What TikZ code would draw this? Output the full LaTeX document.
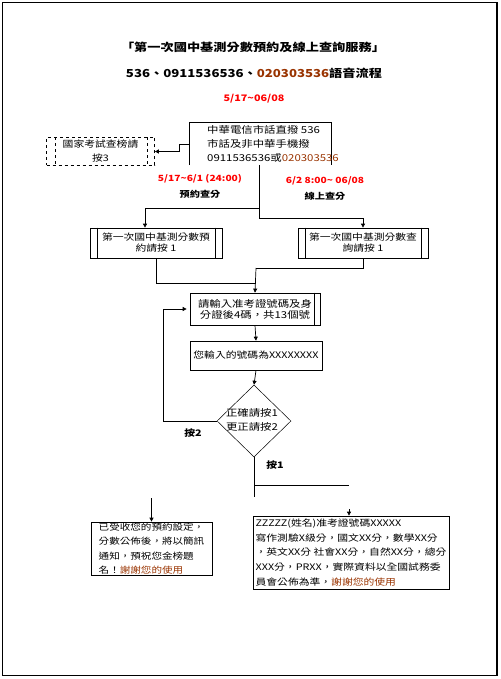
\documentclass[tikz,border=0pt]{standalone}
\usepackage{fontspec}
\setmainfont{Noto Sans CJK TC}[FakeStretch=1.2]
\usetikzlibrary{arrows.meta,shapes.geometric}
\definecolor{brn}{RGB}{153,51,0}
\definecolor{rd}{RGB}{255,0,0}
\tikzset{
  box/.style={draw, line width=0.7pt, inner sep=0pt, align=center},
  lbl/.style={inner sep=0pt, align=center},
  ln/.style={line width=0.7pt},
  arr/.style={line width=0.7pt, -{Triangle[length=4pt,width=4pt]}},
}
\begin{document}
\begin{tikzpicture}[x=1pt,y=-1pt]
\useasboundingbox (0,0) rectangle (500,679);
\draw[line width=1.4pt] (2.5,2.5) rectangle (497,675.5);

% titles
\node[lbl, font=\fontsize{11}{13}\selectfont\bfseries] (title) at (253,47) {「第一次國中基測分數預約及線上查詢服務」};
\node[lbl, font=\fontsize{11}{13}\selectfont\bfseries] (sub) at (254,73) {536、0911536536、\textcolor{brn}{020303536}語音流程};
\node[lbl, font=\fontsize{9}{11}\selectfont\bfseries, text=rd] (date) at (254,99) {5/17\textasciitilde06/08};

% top box (three sides)
\node[minimum width=141pt, minimum height=42pt, inner sep=0pt] (top) at (260.5,144) {};
\draw[ln] (top.south west) |- (top.north east) -- (top.south east);
\node[lbl, anchor=west, align=left, font=\fontsize{9.5}{14}\selectfont] (toptext) at (207,144)
  {中華電信市話直撥 536\\市話及非中華手機撥\\0911536536或\textcolor{brn}{020303536}};

% dashed box
\node[box, dashed, minimum width=108pt, minimum height=28pt, font=\fontsize{9}{14}\selectfont] (dash) at (100.5,151.5) {國家考試查榜請\\按3};
\draw[ln, dashed] ([xshift=9pt]dash.north west) -- ([xshift=9pt]dash.south west);
\draw[ln, dashed] ([xshift=-8pt]dash.north east) -- ([xshift=-8pt]dash.south east);
\draw[arr] (top.west) -- ++(-10,0) |- (dash.east);

% branch labels
\node[lbl, font=\fontsize{8.5}{16}\selectfont\bfseries] (lab1) at (200,186) {\textcolor{rd}{5/17\textasciitilde6/1 (24:00)}\\預約查分};
\node[lbl, font=\fontsize{8.5}{16}\selectfont\bfseries] (lab2) at (325,188) {\textcolor{rd}{6/2 8:00\textasciitilde{} 06/08}\\線上查分};

% branch
\coordinate (br) at (259,165);
\coordinate (brR) at (259,218);
\coordinate (brL) at (259,208);
\node[box, minimum width=132pt, minimum height=30pt, font=\fontsize{9}{11}\selectfont] (lbox) at (156,243) {第一次國中基測分數預\\約請按 1};
\draw[ln] ([xshift=8pt]lbox.north west) -- ([xshift=8pt]lbox.south west);
\draw[ln] ([xshift=-7pt]lbox.north east) -- ([xshift=-7pt]lbox.south east);
\node[box, minimum width=130pt, minimum height=30pt, font=\fontsize{9}{11}\selectfont] (rbox) at (363,243) {第一次國中基測分數查\\詢請按 1};
\draw[ln] ([xshift=8pt]rbox.north west) -- ([xshift=8pt]rbox.south west);
\draw[ln] ([xshift=-7pt]rbox.north east) -- ([xshift=-7pt]rbox.south east);
\draw[ln] (br) -- (brR);
\draw[arr] (brR) -| (rbox.north);
\draw[arr] (brL) -| ([xshift=-11pt]lbox.north);

% input box
\node[box, minimum width=130pt, minimum height=32pt, font=\fontsize{9.5}{11}\selectfont] (inp) at (255,309) {請輸入准考證號碼及身\\分證後4碼，共13個號};
\draw[ln] ([xshift=-6pt]inp.north east) -- ([xshift=-6pt]inp.south east);
\coordinate (mR) at (256,268);
\coordinate (mL) at (256,283);
\draw[ln] (rbox.south) |- (mR);
\draw[ln] (lbox.south) |- (mL);
\draw[arr] (mR) -- (inp.north);

% echo box
\node[box, minimum width=132pt, minimum height=29pt, font=\fontsize{9}{11}\selectfont] (echo) at (256,355.5) {您輸入的號碼為XXXXXXXX};
\draw[arr] (inp.south) -- (echo.north);

% diamond
\node[diamond, draw, line width=0.5pt, minimum width=74pt, minimum height=72pt, inner sep=0pt] (dia) at (254,421) {};
\node[lbl, font=\fontsize{9.5}{14}\selectfont] (diat) at (252,420) {正確請按1\\更正請按2};
\draw[arr] (echo.south) -- (dia.north);
\coordinate (loop) at (163,421);
\draw[arr, shorten >=3pt] (dia.west) -- (loop) |- (inp.west);
\node[lbl, font=\fontsize{9}{11}\selectfont\bfseries] (k2) at (193,433) {按2};
\node[lbl, font=\fontsize{9}{11}\selectfont\bfseries] (k1) at (275,465) {按1};

\coordinate (dEnd) at (254,497);
\coordinate (hEnd) at (349,485);
\coordinate (hMid) at (254,485);
\draw[ln] (dia.south) -- (dEnd);
\draw[ln] (hMid) -- (hEnd);

% bottom boxes
\node[box, minimum width=121pt, minimum height=53pt, align=left, font=\fontsize{8.8}{14.3}\selectfont] (bl) at (151.5,548.5)
  {已受收您的預約設定，\\分數公佈後，將以簡訊\\通知，預祝您金榜題\\名！\textcolor{brn}{謝謝您的使用}};
\node[box, minimum width=196pt, minimum height=73pt, inner xsep=2pt, align=left, font=\fontsize{9}{14.6}\selectfont] (br2) at (351,552.5)
  {ZZZZZ(姓名)准考證號碼XXXXX\\寫作測驗X級分，國文XX分，數學XX分\\，英文XX分 社會XX分，自然XX分，總分\\XXX分，PRXX，實際資料以全國試務委\\員會公佈為準，\textcolor{brn}{謝謝您的使用}};
\coordinate (la) at (151.5,498);
\coordinate (ra) at (349,509);
\draw[arr] (la) -- (bl.north);
\draw[arr] (ra) -- ([xshift=-2pt]br2.north);
\end{tikzpicture}
\end{document}
